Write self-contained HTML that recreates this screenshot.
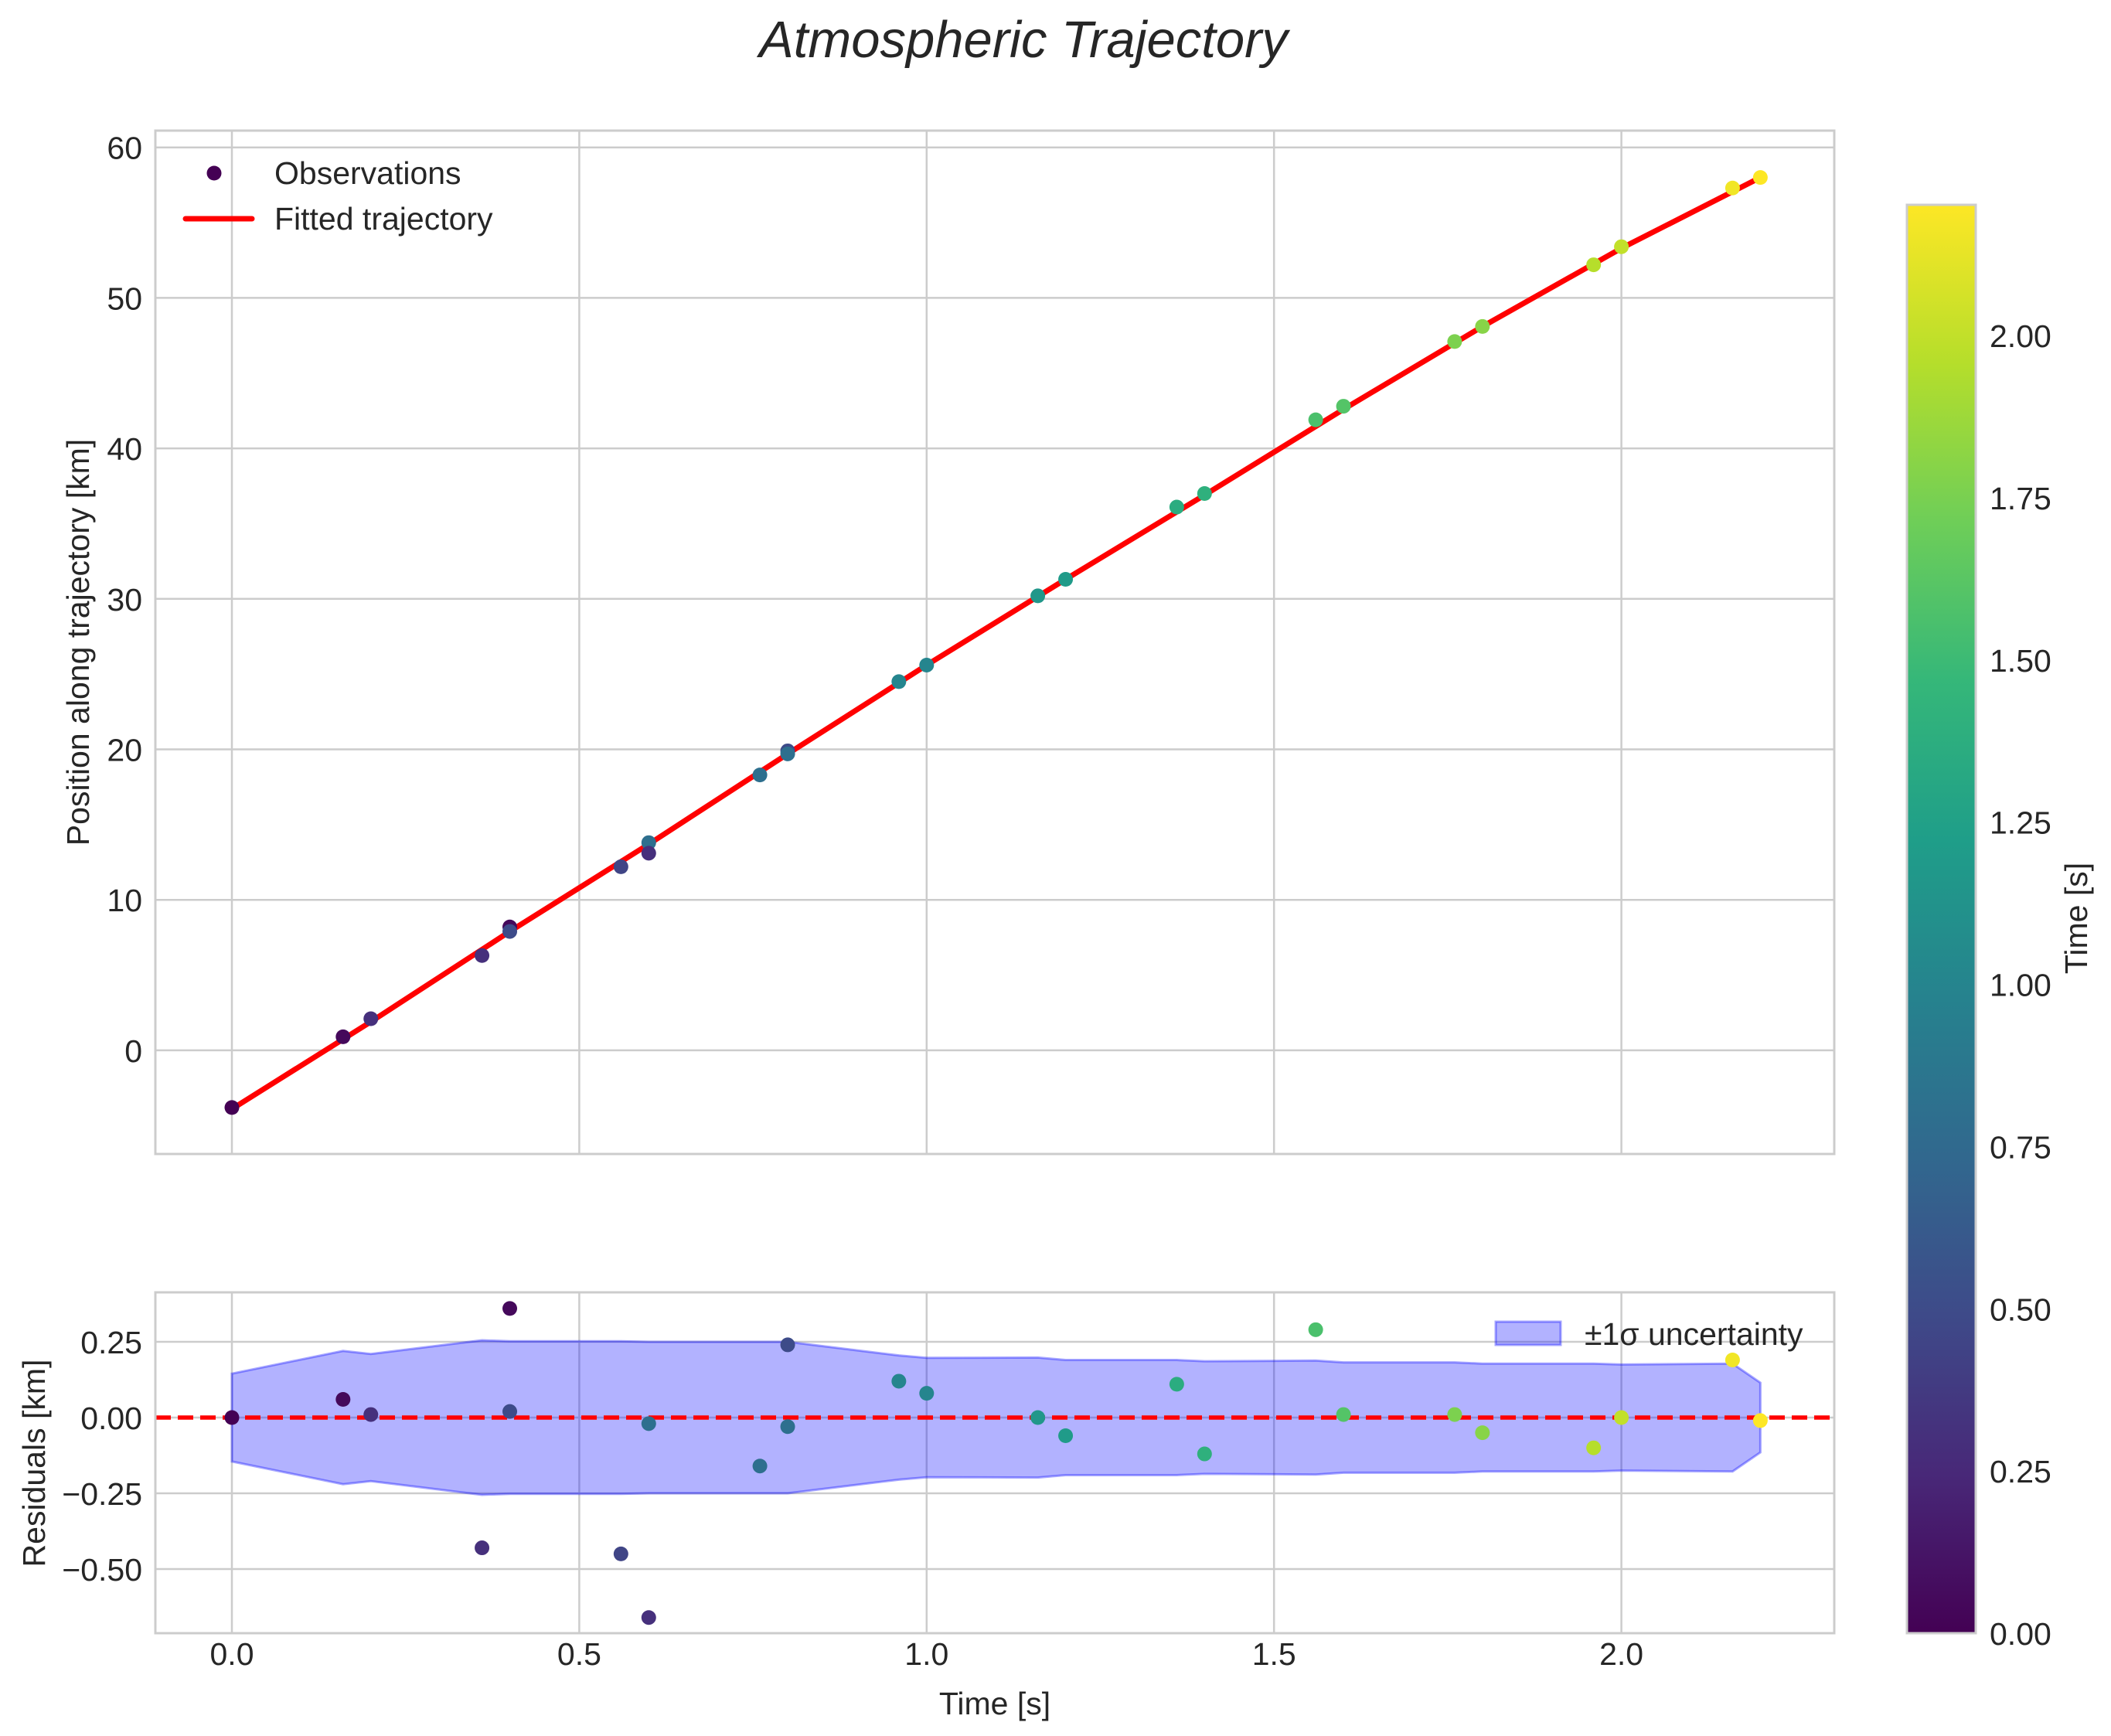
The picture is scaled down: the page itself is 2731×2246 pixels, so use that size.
<!DOCTYPE html>
<html><head><meta charset="utf-8">
<style>
html,body{margin:0;padding:0;background:#fff;}
svg{display:block;font-family:"Liberation Sans",sans-serif;}
</style></head>
<body>
<svg id="fig" width="2731" height="2246" viewBox="0 0 2731 2246" xmlns="http://www.w3.org/2000/svg">
<text x="1324" y="74" text-anchor="middle" font-size="67" font-style="italic" fill="#262626">Atmospheric Trajectory</text>
<g id="topAx"></g>
<g id="botAx"></g>
<g id="cbarAx"></g>
</svg>
<script>
// ---- data ----
const obsT = [0,0.16,0.2,0.36,0.4,0.4,0.56,0.6,0.6,0.76,0.8,0.8,0.96,1.0,1.16,1.2,1.36,1.4,1.56,1.6,1.76,1.8,1.96,2.0,2.16,2.2];
const obsY = [-3.8,0.9,2.1,6.3,8.2,7.9,12.2,13.8,13.1,18.3,19.9,19.7,24.5,25.6,30.2,31.3,36.1,37.0,41.9,42.8,47.1,48.1,52.2,53.4,57.3,58.0];
const obsC = [0,0.05,0.3,0.3,0.05,0.5,0.45,0.8,0.3,0.8,0.5,0.8,1.0,1.0,1.16,1.2,1.36,1.4,1.56,1.6,1.76,1.8,1.96,2.0,2.16,2.2];
const fitT = [0,0.2,0.4,0.6,0.8,1.0,1.2,1.4,1.6,1.8,2.0,2.2];
const fitY = [-3.9,1.9,7.9,13.7,19.7,25.6,31.3,36.9,42.6,48.1,53.3,58.0];
const resT = [0,0.16,0.2,0.36,0.4,0.4,0.56,0.6,0.6,0.76,0.8,0.8,0.96,1.0,1.16,1.2,1.36,1.4,1.56,1.6,1.76,1.8,1.96,2.0,2.16,2.2];
const resV = [0,0.06,0.01,-0.43,0.36,0.02,-0.45,-0.02,-0.66,-0.16,0.24,-0.03,0.12,0.08,0.0,-0.06,0.11,-0.12,0.29,0.01,0.01,-0.05,-0.10,0.0,0.19,-0.01];
const resC = [0,0.05,0.3,0.3,0.05,0.5,0.45,0.8,0.3,0.8,0.5,0.8,1.0,1.0,1.16,1.2,1.36,1.4,1.56,1.6,1.76,1.8,1.96,2.0,2.16,2.2];
const sigT = [0,0.16,0.2,0.36,0.4,0.56,0.6,0.76,0.8,0.96,1.0,1.16,1.2,1.36,1.4,1.56,1.6,1.76,1.8,1.96,2.0,2.16,2.2];
const sigV = [0.145,0.22,0.21,0.255,0.252,0.252,0.25,0.25,0.25,0.205,0.197,0.198,0.19,0.19,0.186,0.188,0.182,0.182,0.178,0.178,0.175,0.178,0.115];
const xTicks = [0,0.5,1.0,1.5,2.0];
const xTickLabels = ["0.0","0.5","1.0","1.5","2.0"];
const yTicksTop = [0,10,20,30,40,50,60];
const yTicksBot = [-0.5,-0.25,0,0.25];
const yTickLabelsBot = ["\u22120.50","\u22120.25","0.00","0.25"];
const cTicks = [0,0.25,0.5,0.75,1.0,1.25,1.5,1.75,2.0];
const cTickLabels = ["0.00","0.25","0.50","0.75","1.00","1.25","1.50","1.75","2.00"];

const NS="http://www.w3.org/2000/svg";
function mk(parent,tag,attrs,text){const e=document.createElementNS(NS,tag);for(const k in attrs)e.setAttribute(k,attrs[k]);if(text!==undefined)e.textContent=text;parent.appendChild(e);return e;}
const X=t=>300+t*898.8;
const YT=v=>1358.9-v*19.47;
const YB=v=>1834-v*392;
const VIR=[[68,1,84],[72,40,120],[62,74,137],[49,104,142],[38,130,142],[31,158,137],[53,183,121],[110,206,88],[181,222,43],[253,231,37]];
function vir(v){let f=Math.max(0,Math.min(1,v/2.2))*9;let i=Math.min(8,Math.floor(f));let r=f-i;const a=VIR[i],b=VIR[i+1];return `rgb(${a.map((c,k)=>Math.round(c+(b[k]-c)*r)).join(',')})`;}
const FS=41,TC="#262626",GC="#cccccc",BO=15,MR=9.5;

// ---- top axes ----
const gTop=document.getElementById('topAx');
for(const t of xTicks){const l=mk(gTop,'line',{x1:X(t),x2:X(t),y1:169,y2:1493,stroke:GC,'stroke-width':2.5});

}
yTicksTop.forEach(v=>{const l=mk(gTop,'line',{x1:201,x2:2373,y1:YT(v),y2:YT(v),stroke:GC,'stroke-width':2.5});


const tx=mk(gTop,'text',{x:184,y:YT(v)+BO,'text-anchor':'end','font-size':FS,fill:TC},String(v));

});
{const r=mk(gTop,'rect',{x:201,y:169,width:2172,height:1324,fill:'none',stroke:GC,'stroke-width':3});

}
{const p=mk(gTop,'polyline',{points:fitT.map((t,i)=>X(t)+','+YT(fitY[i])).join(' '),fill:'none',stroke:'#ff0000','stroke-width':7,'stroke-linejoin':'round'});

}
obsT.forEach((t,i)=>{const c=mk(gTop,'circle',{cx:X(t),cy:YT(obsY[i]),r:MR,fill:vir(obsC[i])});

});
{const yl=mk(gTop,'text',{x:0,y:0,transform:'translate(115,831) rotate(-90)','text-anchor':'middle','font-size':FS,fill:TC},'Position along trajectory [km]');

}
{const g=mk(gTop,'g',{});


const c=mk(g,'circle',{cx:277,cy:224,r:MR,fill:vir(0)});


const t1=mk(g,'text',{x:355,y:238,'font-size':FS,fill:TC},'Observations');


const l=mk(g,'line',{x1:240,x2:326,y1:283,y2:283,stroke:'#ff0000','stroke-width':7,'stroke-linecap':'round'});


const t2=mk(g,'text',{x:355,y:297,'font-size':FS,fill:TC},'Fitted trajectory');

}

// ---- bottom axes ----
const gBot=document.getElementById('botAx');
for(const t of xTicks){const l=mk(gBot,'line',{x1:X(t),x2:X(t),y1:1672,y2:2113,stroke:GC,'stroke-width':2.5});

}
xTicks.forEach((t,i)=>{const tx=mk(gBot,'text',{x:X(t),y:2154,'text-anchor':'middle','font-size':FS,fill:TC},xTickLabels[i]);

});
yTicksBot.forEach((v,i)=>{const l=mk(gBot,'line',{x1:201,x2:2373,y1:YB(v),y2:YB(v),stroke:GC,'stroke-width':2.5});


const tx=mk(gBot,'text',{x:184,y:YB(v)+BO,'text-anchor':'end','font-size':FS,fill:TC},yTickLabelsBot[i]);

});
{const up=sigT.map((t,i)=>X(t)+','+YB(sigV[i]));const dn=sigT.map((t,i)=>X(t)+','+YB(-sigV[i])).reverse();
const p=mk(gBot,'polygon',{points:up.concat(dn).join(' '),fill:'rgba(0,0,255,0.3)',stroke:'rgba(0,0,255,0.35)','stroke-width':3});

}
{const l=mk(gBot,'line',{x1:201,x2:2373,y1:YB(0),y2:YB(0),stroke:'#ff0000','stroke-width':5.5,'stroke-dasharray':'20,9'});

}
resT.forEach((t,i)=>{const c=mk(gBot,'circle',{cx:X(t),cy:YB(resV[i]),r:MR,fill:vir(resC[i])});

});
{const r=mk(gBot,'rect',{x:201,y:1672,width:2172,height:441,fill:'none',stroke:GC,'stroke-width':3});

}
{const yl=mk(gBot,'text',{x:0,y:0,transform:'translate(58,1893) rotate(-90)','text-anchor':'middle','font-size':FS,fill:TC},'Residuals [km]');


const xl=mk(gBot,'text',{x:1287,y:2218,'text-anchor':'middle','font-size':FS,fill:TC},'Time [s]');

}
{const g=mk(gBot,'g',{});


const r=mk(g,'rect',{x:1935,y:1710,width:84,height:30,fill:'rgba(0,0,255,0.3)',stroke:'rgba(0,0,255,0.35)','stroke-width':3});


const t=mk(g,'text',{x:2050,y:1740,'font-size':FS,fill:TC},'\u00b11\u03c3 uncertainty');

}

// ---- colorbar ----
const gCb=document.getElementById('cbarAx');
const C=v=>2113-v*839.5;
{const defs=mk(gCb,'defs',{});const lg=mk(defs,'linearGradient',{id:'vg',x1:0,y1:1,x2:0,y2:0});
VIR.forEach((c,i)=>mk(lg,'stop',{offset:(i/9),'stop-color':`rgb(${c.join(',')})`}));
const r=mk(gCb,'rect',{x:2467,y:265,width:89,height:1848,fill:'url(#vg)',stroke:GC,'stroke-width':3});

}
cTicks.forEach((v,i)=>{const tx=mk(gCb,'text',{x:2574,y:C(v)+BO,'font-size':FS,fill:TC},cTickLabels[i]);

});
{const t=mk(gCb,'text',{x:0,y:0,transform:'translate(2700,1188) rotate(-90)','text-anchor':'middle','font-size':FS,fill:TC},'Time [s]');

}
</script>
</body></html>
